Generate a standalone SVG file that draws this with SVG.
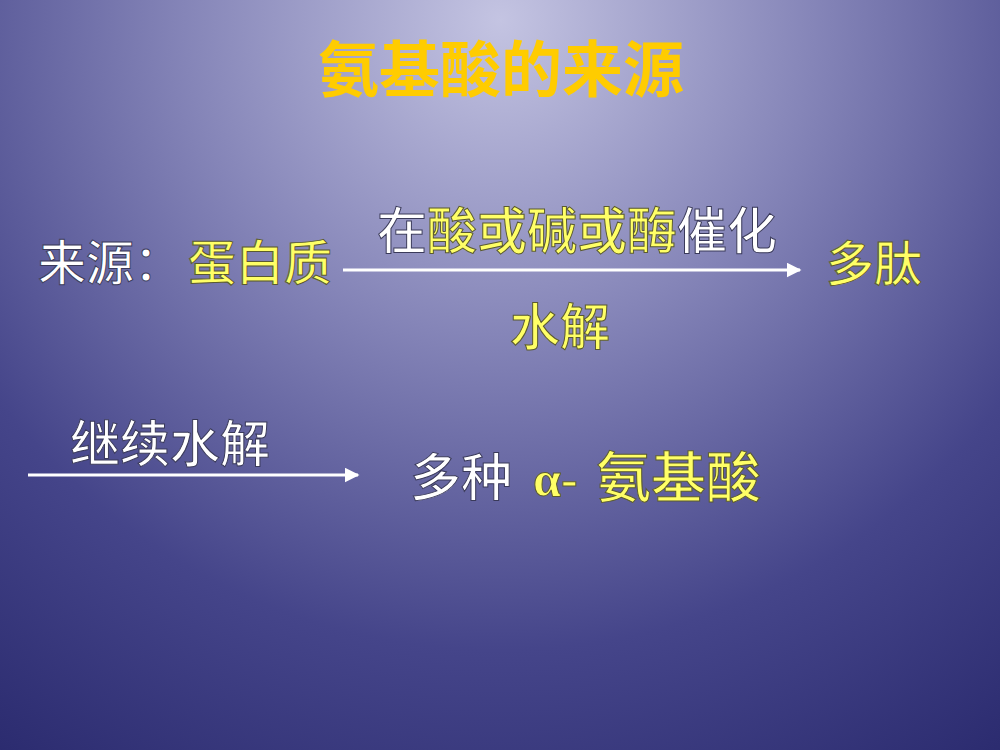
<svg xmlns="http://www.w3.org/2000/svg" width="1000" height="750" viewBox="0 0 1000 750">
<defs>
<radialGradient id="bg" cx="500" cy="20" r="900" gradientUnits="userSpaceOnUse">
<stop offset="0" stop-color="#c4c4e2"/>
<stop offset="0.35" stop-color="#8585b8"/>
<stop offset="0.7" stop-color="#45458a"/>
<stop offset="1" stop-color="#2a2a6e"/>
</radialGradient>
<marker id="ah" viewBox="0 0 10 10" refX="9" refY="5" markerWidth="5" markerHeight="5" markerUnits="strokeWidth" orient="auto">
<path d="M0,0 L10,5 L0,10 z" fill="#ffffff"/>
</marker>
<style>
.t{font-family:"Noto Sans CJK SC","Noto Sans",sans-serif;font-weight:500;}
.title{font-size:61px;font-weight:bold;fill:#ffcc00;}
.w{fill:#ffffff;stroke:#3a3a5a;stroke-width:1;}
.y{fill:#ffff66;stroke:#5a5a30;stroke-width:1;}
.ln{stroke:#ffffff;stroke-width:3;fill:none;}
</style>
</defs>
<rect width="1000" height="750" fill="url(#bg)"/>
<g id="title">
<text class="t title" x="501" y="92" text-anchor="middle">氨基酸的来源</text>
</g>
<g id="source">
<text class="t w" x="38" y="280" font-size="48">来源：</text>
<text class="t y" x="188" y="280" font-size="48">蛋白质</text>
</g>
<g id="condition">
<text class="t" x="377" y="249" font-size="50"><tspan class="w">在</tspan><tspan class="y">酸或碱或酶</tspan><tspan class="w">催化</tspan></text>
<text class="t y" x="510" y="345" font-size="50">水解</text>
</g>
<g id="peptide">
<text class="t y" x="826" y="281" font-size="48">多肽</text>
</g>
<g id="step2">
<text class="t w" x="70" y="462" font-size="50">继续水解</text>
</g>
<g id="product">
<text class="t w" x="410" y="496" font-size="51">多种</text>
<text class="y" x="533" y="496" font-size="50" font-family="'Liberation Serif',serif" font-weight="bold">α-</text>
<text class="t y" x="596" y="497" font-size="55">氨基酸</text>
</g>
<g id="connectors">
<line class="ln" x1="343" y1="270" x2="800" y2="270" marker-end="url(#ah)"/>
<line class="ln" x1="28" y1="475" x2="358" y2="475" marker-end="url(#ah)"/>
</g>
</svg>
